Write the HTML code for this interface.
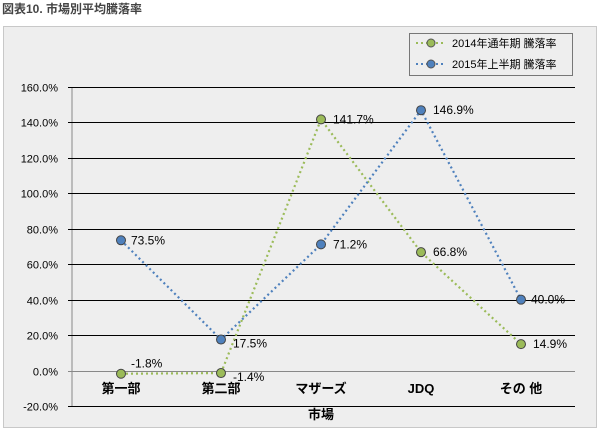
<!DOCTYPE html>
<html><head><meta charset="utf-8"><style>
body{margin:0;background:#fff;font-family:"Liberation Sans","Noto Sans CJK JP",sans-serif;}
</style></head><body>
<svg width="600" height="430" style="display:block;font-family:'Liberation Sans','Noto Sans CJK JP',sans-serif">
<text x="2" y="13" font-size="12" font-weight="bold" fill="#444">図表10. 市場別平均騰落率</text>
<rect x="3.5" y="26.5" width="593" height="401" fill="#eeeeee" stroke="#c8c8c8"/>
<g id="grid"></g><g id="series"></g>
<g>
<rect x="409.5" y="33.5" width="163" height="42" fill="#eeeeee" stroke="#777"/>
<line x1="416" y1="43" x2="446" y2="43" stroke="#9bbb59" stroke-width="2" stroke-dasharray="2,3"/>
<circle cx="431" cy="43" r="4" fill="#9bbb59" stroke="#555"/>
<text x="452" y="47" font-size="11" fill="#000">2014年通年期 騰落率</text>
<line x1="416" y1="64" x2="446" y2="64" stroke="#4f81bd" stroke-width="2" stroke-dasharray="2,3"/>
<circle cx="431" cy="64" r="4" fill="#4f81bd" stroke="#555"/>
<text x="452" y="68" font-size="11" fill="#000">2015年上半期 騰落率</text>
</g>
<text x="321" y="419" font-size="13" font-weight="bold" text-anchor="middle">市場</text>
</svg>
<script>
const categories=["第一部","第二部","マザーズ","JDQ","その 他"];
const s2014=[-1.8,-1.4,141.7,66.8,14.9];
const s2015=[73.5,17.5,71.2,146.9,40.0];
const ticks=[160,140,120,100,80,60,40,20,0,-20];
const NS="http://www.w3.org/2000/svg";
const X0=71,X1=571,Y0=87,Y1=406,VMAX=160,VMIN=-20;
const xs=i=>X0+(X1-X0)/categories.length*(i+0.5);
const ys=v=>Y0+(VMAX-v)/(VMAX-VMIN)*(Y1-Y0);
function mk(t,a,p){const e=document.createElementNS(NS,t);for(const k in a)e.setAttribute(k,a[k]);p.appendChild(e);return e;}
const g=document.getElementById('grid'),sg=document.getElementById('series');
mk('line',{x1:72,y1:Y0,x2:72,y2:Y1,stroke:'#888'},g);
ticks.forEach(t=>{const y=Math.round(ys(t))+0.5;
const l=mk('line',{x1:68,y1:y,x2:575,y2:y,stroke:t===0?'#888':'#000'},g);


const tx=mk('text',{x:58,y:y+4,'font-size':11,'text-anchor':'end'},g);tx.textContent=t.toFixed(1)+'%';

});
categories.forEach((c,i)=>{const tx=mk('text',{x:xs(i),y:393,'font-size':13,'font-weight':'bold','text-anchor':'middle'},g);tx.textContent=c;

});
function series(d,col,name,offs){
const pl=mk('polyline',{points:d.map((v,i)=>xs(i)+','+ys(v)).join(' '),fill:'none',stroke:col,'stroke-width':2.2,'stroke-dasharray':'2,3'},sg);


d.forEach((v,i)=>{const c=mk('circle',{cx:xs(i),cy:ys(v),r:4.5,fill:col,stroke:'#444'},sg);


const o=offs[i];const t=mk('text',{x:xs(i)+o[0],y:ys(v)+o[1],'font-size':12},sg);t.textContent=v.toFixed(1)+'%';

});}
series(s2014,'#9bbb59','series-2014',[[10,-6],[12,8],[12,4],[12,4],[12,4]]);
series(s2015,'#4f81bd','series-2015',[[10,4],[12,8],[12,4],[12,4],[10,4]]);
</script>
</body></html>
